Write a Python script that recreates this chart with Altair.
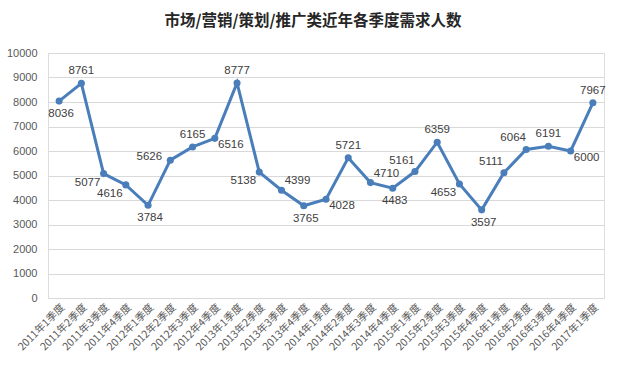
import altair as alt
import pandas as pd

quarters = [
    "2011年1季度", "2011年2季度", "2011年3季度", "2011年4季度",
    "2012年1季度", "2012年2季度", "2012年3季度", "2012年4季度",
    "2013年1季度", "2013年2季度", "2013年3季度", "2013年4季度",
    "2014年1季度", "2014年2季度", "2014年3季度", "2014年4季度",
    "2015年1季度", "2015年2季度", "2015年3季度", "2015年4季度",
    "2016年1季度", "2016年2季度", "2016年3季度", "2016年4季度",
    "2017年1季度",
]
values = [8036, 8761, 5077, 4616, 3784, 5626, 6165, 6516, 8777, 5138,
          4399, 3765, 4028, 5721, 4710, 4483, 5161, 6359, 4653, 3597,
          5111, 6064, 6191, 6000, 7967]
# label placement around each point
label_pos = ["b", "a", "bl", "bl", "b", "l", "a", "br", "a", "bl",
             "ar", "b", "br", "a", "ar", "b", "al", "a", "bl", "b",
             "al", "al", "a", "br", "a"]

df = pd.DataFrame({"季度": quarters, "人数": values, "pos": label_pos})

offsets = {
    "a": (0, -12),
    "b": (2, 13),
    "l": (-21, -3),
    "bl": (-16, 9),
    "br": (16, 7),
    "ar": (16, -9),
    "al": (-13, -11),
}

color = "#4A7EBB"

x = alt.X("季度:N", sort=None, title=None,
          scale=alt.Scale(type="point", padding=0.5),
          axis=alt.Axis(labelAngle=-45, labelAlign="right", labelBaseline="top",
                        labelPadding=4, labelFont="Noto Sans CJK SC", labelFontSize=10.5,
                        labelColor="#595959", domain=False, ticks=False, grid=False,
                        labelOverlap=False))
y = alt.Y("人数:Q", title=None,
          scale=alt.Scale(domain=[0, 10000], nice=False),
          axis=alt.Axis(values=list(range(0, 10001, 1000)), format="d",
                        labelFont="Liberation Sans",
                        labelFontSize=11, labelColor="#595959", labelPadding=11,
                        domain=False, ticks=False, grid=True, gridColor="#D9D9D9",
                        gridWidth=1))

base = alt.Chart(df)
line = base.mark_line(color=color, strokeWidth=3).encode(x=x, y=y)
pts = base.mark_point(filled=True, color=color, size=50, opacity=1).encode(x=x, y=y)

layers = [line, pts]
for key, (dx, dy) in offsets.items():
    layers.append(
        base.transform_filter(alt.datum.pos == key)
        .mark_text(dx=dx, dy=dy, font="Liberation Sans", fontSize=11.5,
                   color="#404040", align="center", baseline="middle")
        .encode(x=x, y=y, text="人数:Q")
    )

chart = alt.layer(*layers).properties(
    width=556, height=245,
    title=alt.TitleParams("市场/营销/策划/推广类近年各季度需求人数",
                          font="Noto Sans CJK SC", fontSize=15.5, fontWeight="bold",
                          color="#262626", anchor="middle", dx=-13,
                          baseline="bottom", offset=3),
    autosize=alt.AutoSizeParams(type="none"),
    padding={"left": 48, "top": 53, "right": 14, "bottom": 78},
).configure_view(stroke=None).configure(background="white")

chart.save("out.html", embed_options={"renderer": "svg", "actions": False})
